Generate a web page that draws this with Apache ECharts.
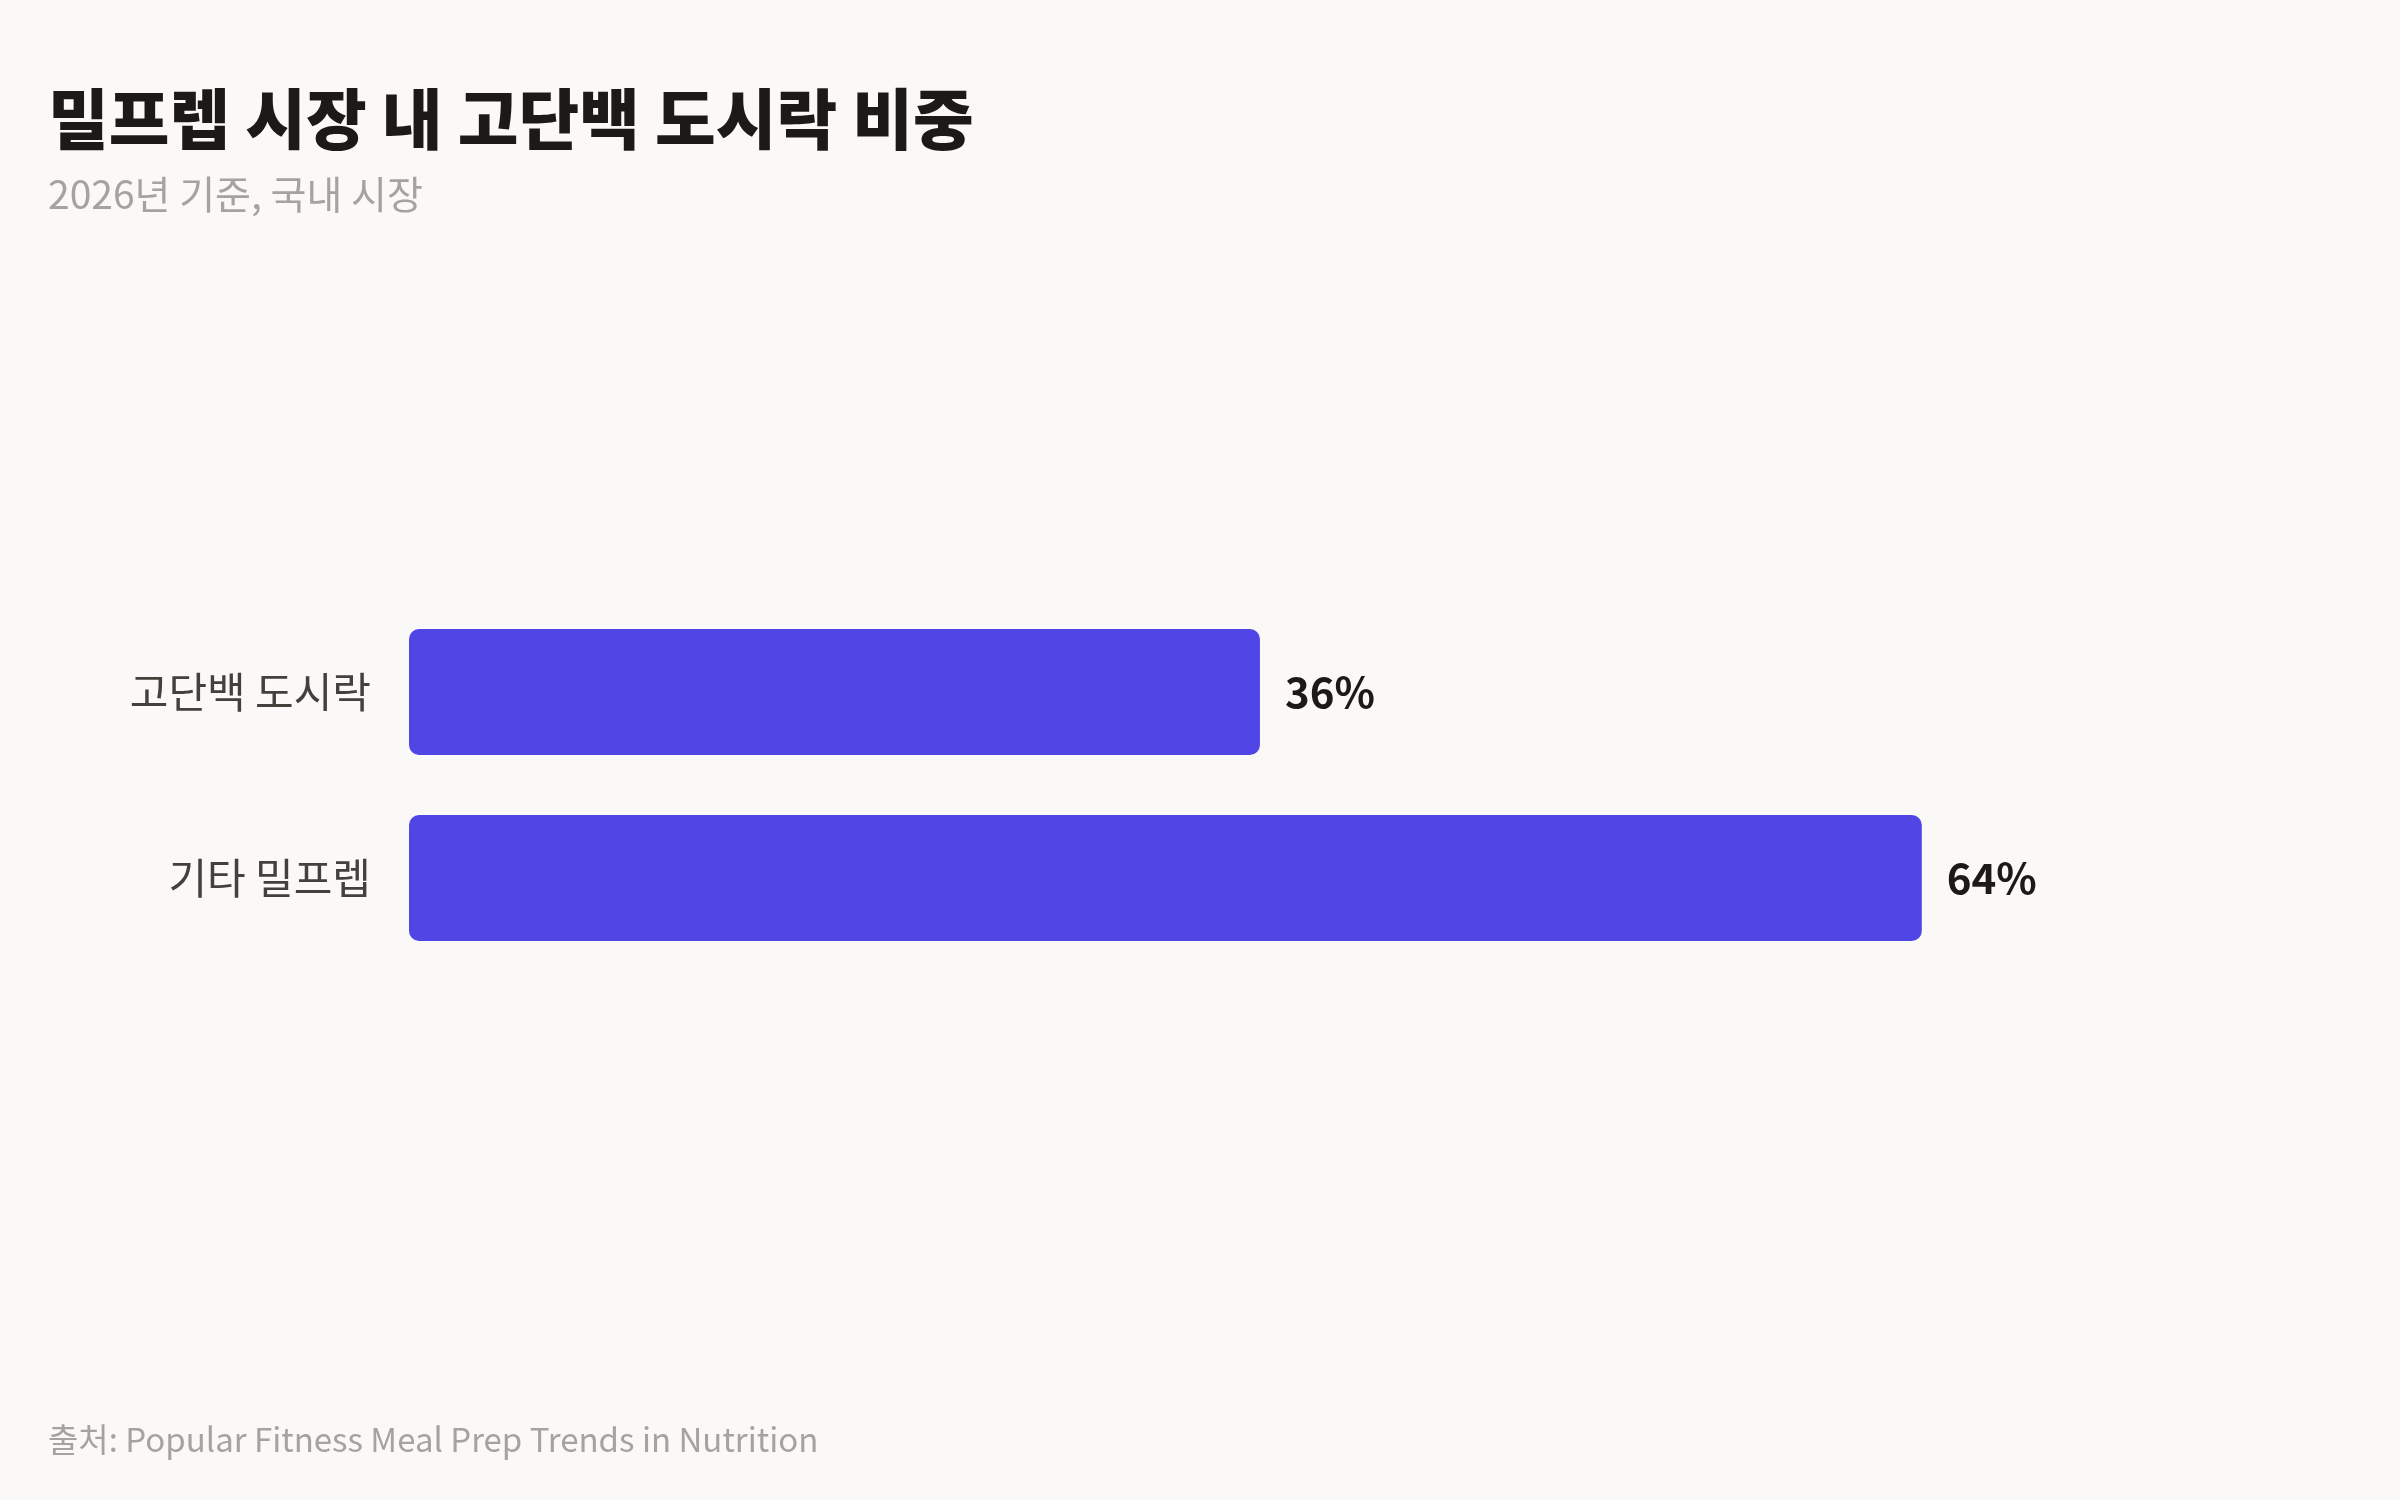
<!DOCTYPE html>
<html>
<head>
<meta charset="utf-8">
<script src="https://cdn.jsdelivr.net/npm/echarts@6/dist/echarts.min.js"></script>
<style>
html,body{margin:0;padding:0;background:#faf9f7;}
#chart{width:2400px;height:1500px;}
</style>
</head>
<body>
<div id="chart"></div>
<script>
const categories = ['고단백 도시락', '기타 밀프렙'];
const shares = [36, 64];
const titleText = '밀프렙 시장 내 고단백 도시락 비중';
const subtitleText = '2026년 기준, 국내 시장';
const sourceText = '출처: Popular Fitness Meal Prep Trends in Nutrition';

const FONT = "'Noto Sans CJK KR', 'Noto Sans', sans-serif";
const chart = echarts.init(document.getElementById('chart'), null, {renderer: 'canvas'});
chart.setOption({
  backgroundColor: '#faf9f7',
  animation: false,
  title: [
    {text: titleText, left: 48, top: 86, padding: 0,
     textStyle: {fontFamily: FONT, fontSize: 66, fontWeight: 900, color: '#1c1917', lineHeight: 66}},
    {text: subtitleText, left: 48, top: 174, padding: 0,
     textStyle: {fontFamily: FONT, fontSize: 39, fontWeight: 'normal', color: '#a8a29e', lineHeight: 40}},
    {text: sourceText, left: 48, top: 1422, padding: 0,
     textStyle: {fontFamily: FONT, fontSize: 33, fontWeight: 'normal', color: '#a8a29e', lineHeight: 34}}
  ],
  grid: {left: 409, right: 100, top: 599, height: 372, containLabel: false},
  xAxis: {
    type: 'value', min: 0, max: 80,
    show: false
  },
  yAxis: {
    type: 'category', data: categories, inverse: true,
    axisLine: {show: false}, axisTick: {show: false}, splitLine: {show: false},
    axisLabel: {margin: 38, fontFamily: FONT, fontSize: 42, color: '#44403c'}
  },
  series: [{
    type: 'bar',
    data: shares,
    barWidth: 126,
    itemStyle: {color: '#4f46e5', borderRadius: 10},
    label: {
      show: true, position: 'right', distance: 25,
      formatter: p => p.value + '%',
      fontFamily: FONT, fontSize: 42, fontWeight: 'bold', color: '#1c1917'
    }
  }]
});
</script>
</body>
</html>
